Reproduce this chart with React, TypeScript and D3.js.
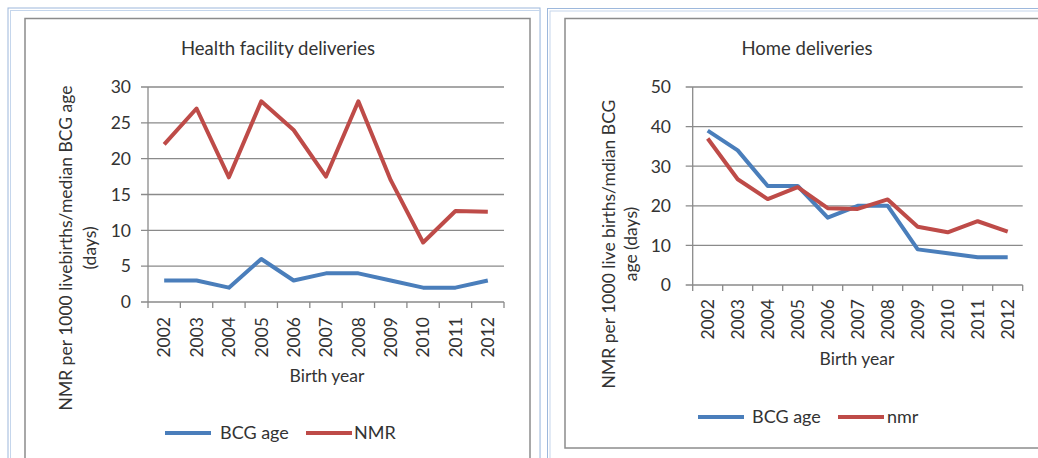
import React from "react";
import * as d3 from "d3";

const years = ["2002","2003","2004","2005","2006","2007","2008","2009","2010","2011","2012"];
const facilityBCG = [3, 3, 2, 6, 3, 4, 4, 3, 2, 2, 3];
const facilityNMR = [22, 27, 17.4, 28, 24, 17.5, 28, 17, 8.3, 12.7, 12.6];
const homeBCG = [39, 34, 25, 25, 17, 20, 20, 9, 8, 7, 7];
const homeNMR = [37, 26.7, 21.7, 24.7, 19.4, 19.2, 21.6, 14.7, 13.3, 16.1, 13.5];
const facilityTicks = [0, 5, 10, 15, 20, 25, 30];
const homeTicks = [0, 10, 20, 30, 40, 50];

const BLUE = "#4a7ebb";
const RED = "#be4b48";
const GRID = "#8a8a8a";
const TEXT = "#333333";
const FONT = "Lato, 'Open Sans', sans-serif";

type PanelProps = {
  title: string;
  titleX: number;
  x0: number; x1: number; y0: number; y1: number;
  yMax: number; yTicks: number[];
  tickRight: number;
  xLabelTop: number;
  yLabel1: string; yLabel2: string;
  yl1x: number; yl2x: number; ylcy: number;
  birthX: number; birthY: number;
  legendY: number; legendX: number[];
  names: string[];
  s1: number[]; s2: number[];
};

function Panel(p: PanelProps) {
  const x = d3.scaleBand<string>().domain(years).range([p.x0, p.x1]);
  const y = d3.scaleLinear().domain([0, p.yMax]).range([p.y1, p.y0]);
  const line = d3.line<number>()
    .x((_, i) => (x(years[i]) as number) + x.bandwidth() / 2)
    .y((d) => y(d));
  const boundaries = years.map((yr) => x(yr) as number).concat([p.x1]);
  return (
    <g fontFamily={FONT} fill={TEXT}>
      <text x={p.titleX} y={55} textAnchor="middle" fontSize={18.5}>{p.title}</text>
      {p.yTicks.map((t) => (
        <g key={t}>
          <line x1={p.x0 - 7} x2={t === 0 ? p.x1 : p.x1} y1={y(t)} y2={y(t)} stroke={GRID} strokeWidth={1.3} />
          <text x={p.tickRight} y={y(t)} dy="0.36em" textAnchor="end" fontSize={17.5}>{t}</text>
        </g>
      ))}
      <line x1={p.x0} x2={p.x0} y1={p.y0} y2={p.y1} stroke={GRID} strokeWidth={1.3} />
      {boundaries.map((b, i) => (
        <line key={i} x1={b} x2={b} y1={p.y1} y2={p.y1 + 6} stroke={GRID} strokeWidth={1.3} />
      ))}
      {years.map((yr) => (
        <text key={yr} transform={`translate(${(x(yr) as number) + x.bandwidth() / 2},${p.xLabelTop}) rotate(-90)`}
          dy="0.36em" textAnchor="end" fontSize={17.5}>{yr}</text>
      ))}
      <text x={p.birthX} y={p.birthY} dy="0.36em" textAnchor="middle" fontSize={17.5}>Birth year</text>
      <text transform={`translate(${p.yl1x},${p.ylcy}) rotate(-90)`} dy="0.36em" textAnchor="middle" fontSize={17.5}>{p.yLabel1}</text>
      <text transform={`translate(${p.yl2x},${p.ylcy}) rotate(-90)`} dy="0.36em" textAnchor="middle" fontSize={17.5}>{p.yLabel2}</text>
      <path d={line(p.s1) || ""} fill="none" stroke={BLUE} strokeWidth={4} strokeLinejoin="round" />
      <path d={line(p.s2) || ""} fill="none" stroke={RED} strokeWidth={4} strokeLinejoin="round" />
      <line x1={p.legendX[0]} x2={p.legendX[1]} y1={p.legendY} y2={p.legendY} stroke={BLUE} strokeWidth={4} />
      <text x={p.legendX[2]} y={p.legendY} dy="0.36em" fontSize={18}>{p.names[0]}</text>
      <line x1={p.legendX[3]} x2={p.legendX[4]} y1={p.legendY} y2={p.legendY} stroke={RED} strokeWidth={4} />
      <text x={p.legendX[5]} y={p.legendY} dy="0.36em" fontSize={18}>{p.names[1]}</text>
    </g>
  );
}

export default function App() {
  return (
    <svg width={1038} height={458} style={{ position: "fixed", left: 0, top: 0, background: "#fff" }}>
      {/* left frame */}
      <rect x={8} y={8} width={532} height={470} fill="none" stroke="#9db8dc" strokeWidth={1} />
      <rect x={10.5} y={10.5} width={530} height={470} fill="none" stroke="#c5d6ec" strokeWidth={1} />
      <rect x={25} y={18.5} width={505} height={470} fill="#fff" stroke="#8c8c8c" strokeWidth={1.5} />
      {/* right frame */}
      <rect x={547.5} y={8.5} width={520} height={470} fill="none" stroke="#9db8dc" strokeWidth={1} />
      <rect x={550} y={11} width={520} height={470} fill="none" stroke="#c5d6ec" strokeWidth={1} />
      <rect x={565} y={18.5} width={500} height={429.5} fill="#fff" stroke="#8c8c8c" strokeWidth={1.5} />
      <Panel
        title="Health facility deliveries" titleX={278}
        x0={148} x1={504} y0={87} y1={302} yMax={30} yTicks={facilityTicks}
        tickRight={131} xLabelTop={317}
        yLabel1="NMR per 1000 livebirths/median BCG age" yLabel2="(days)"
        yl1x={66} yl2x={90} ylcy={248}
        birthX={327} birthY={376}
        legendY={433} legendX={[165, 211, 220, 306, 352, 354]}
        names={["BCG age", "NMR"]}
        s1={facilityBCG} s2={facilityNMR}
      />
      <Panel
        title="Home deliveries" titleX={807}
        x0={692.7} x1={1022.7} y0={87} y1={285} yMax={50} yTicks={homeTicks}
        tickRight={671} xLabelTop={299}
        yLabel1="NMR per 1000 live births/mdian BCG" yLabel2="age (days)"
        yl1x={609} yl2x={631} ylcy={244}
        birthX={857} birthY={359}
        legendY={417} legendX={[698, 744, 752, 838, 884, 887]}
        names={["BCG age", "nmr"]}
        s1={homeBCG} s2={homeNMR}
      />
    </svg>
  );
}
